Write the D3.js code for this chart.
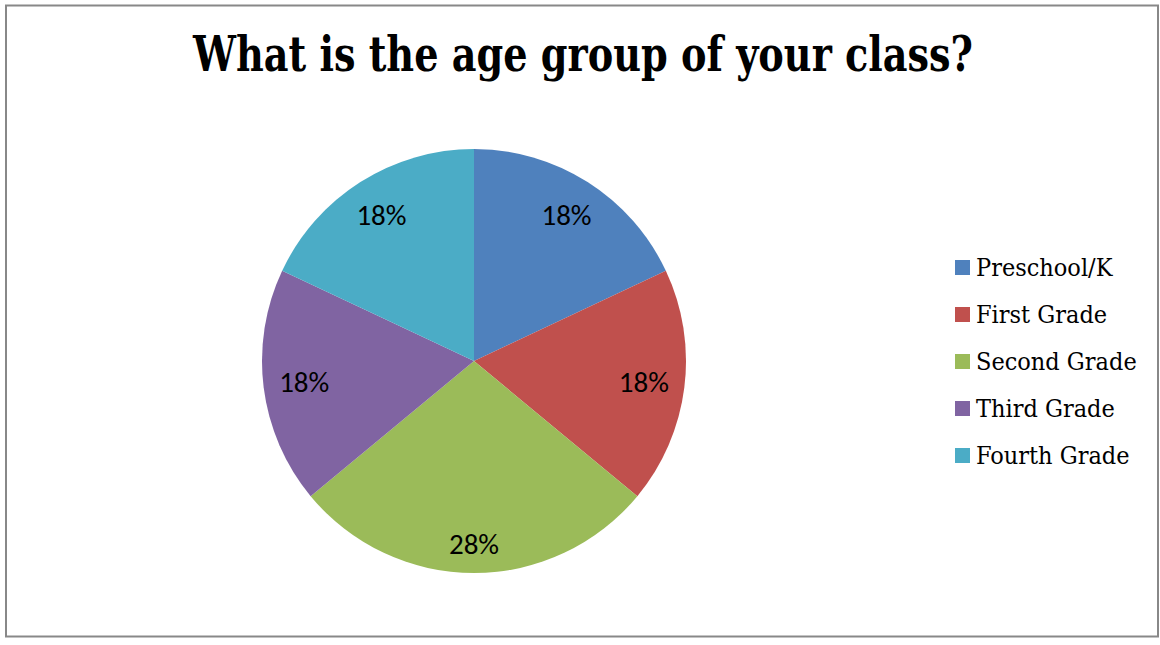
<!DOCTYPE html>
<html>
<head>
<meta charset="utf-8">
<script src="https://cdn.jsdelivr.net/npm/d3@7/dist/d3.min.js"></script>
<style>
  html, body { margin: 0; padding: 0; background: #fff; }
</style>
</head>
<body>
<svg id="chart" width="1160" height="645"></svg>
<script>
const title = "What is the age group of your class?";
const categories = ["Preschool/K", "First Grade", "Second Grade", "Third Grade", "Fourth Grade"];
const values = [18, 18, 28, 18, 18];
const colors = ["#4F81BD", "#C0504D", "#9BBB59", "#8064A2", "#4BACC6"];

const svg = d3.select("#chart");
const W = 1160, H = 645;

svg.append("rect")
  .attr("x", 6).attr("y", 5.5).attr("width", 1152).attr("height", 631)
  .attr("fill", "#fff").attr("stroke", "#888").attr("stroke-width", 2);

svg.append("text")
  .attr("x", 583).attr("y", 71)
  .attr("text-anchor", "middle")
  .attr("font-family", "'DejaVu Serif Condensed', 'DejaVu Serif', serif")
  .attr("font-weight", "bold")
  .attr("font-size", 48)
  .attr("textLength", 780)
  .attr("lengthAdjust", "spacingAndGlyphs")
  .attr("fill", "#000")
  .text(title);

const cx = 474, cy = 361, R = 212;
const total = d3.sum(values);
const pie = d3.pie().sort(null).value(d => d)(values);
const arc = d3.arc().innerRadius(0).outerRadius(R);

const g = svg.append("g").attr("transform", `translate(${cx},${cy})`);
g.selectAll("path.slice").data(pie).join("path")
  .attr("class", "slice")
  .attr("d", arc)
  .attr("fill", (d, i) => colors[i]);

const fmt = d => Math.round(d / total * 100) + "%";
const margin = 14;
g.selectAll("text.lbl").data(pie).join("text")
  .attr("class", "lbl")
  .attr("text-anchor", "middle")
  .attr("dominant-baseline", "central")
  .attr("font-family", "Carlito, 'Liberation Sans Narrow', Lato, sans-serif")
  .attr("font-size", 29)
  .attr("fill", "#000")
  .text(d => fmt(d.data))
  .each(function(d) {
    const bb = this.getBBox();
    const hw = bb.width / 2, hh = bb.height / 2 * 0.75;
    const a = (d.startAngle + d.endAngle) / 2;
    const ux = Math.sin(a), uy = -Math.cos(a);
    const kx = Math.sign(ux) * hw, ky = Math.sign(uy) * hh;
    const t = R - margin;
    const b = ux * kx + uy * ky;
    const c = kx * kx + ky * ky - t * t;
    const dist = -b + Math.sqrt(b * b - c);
    d3.select(this).attr("x", ux * dist).attr("y", uy * dist);
  });

const legend = svg.append("g").attr("transform", "translate(955,267)");
const rows = legend.selectAll("g").data(categories).join("g")
  .attr("transform", (d, i) => `translate(0,${i * 47})`);
rows.append("rect")
  .attr("x", 0).attr("y", -7).attr("width", 15).attr("height", 15)
  .attr("fill", (d, i) => colors[i]);
rows.append("text")
  .attr("x", 21).attr("y", 9)
  .attr("font-family", "'DejaVu Serif Condensed', 'DejaVu Serif', serif")
  .attr("font-size", 25)
  .attr("fill", "#000")
  .text(d => d);
</script>
</body>
</html>
